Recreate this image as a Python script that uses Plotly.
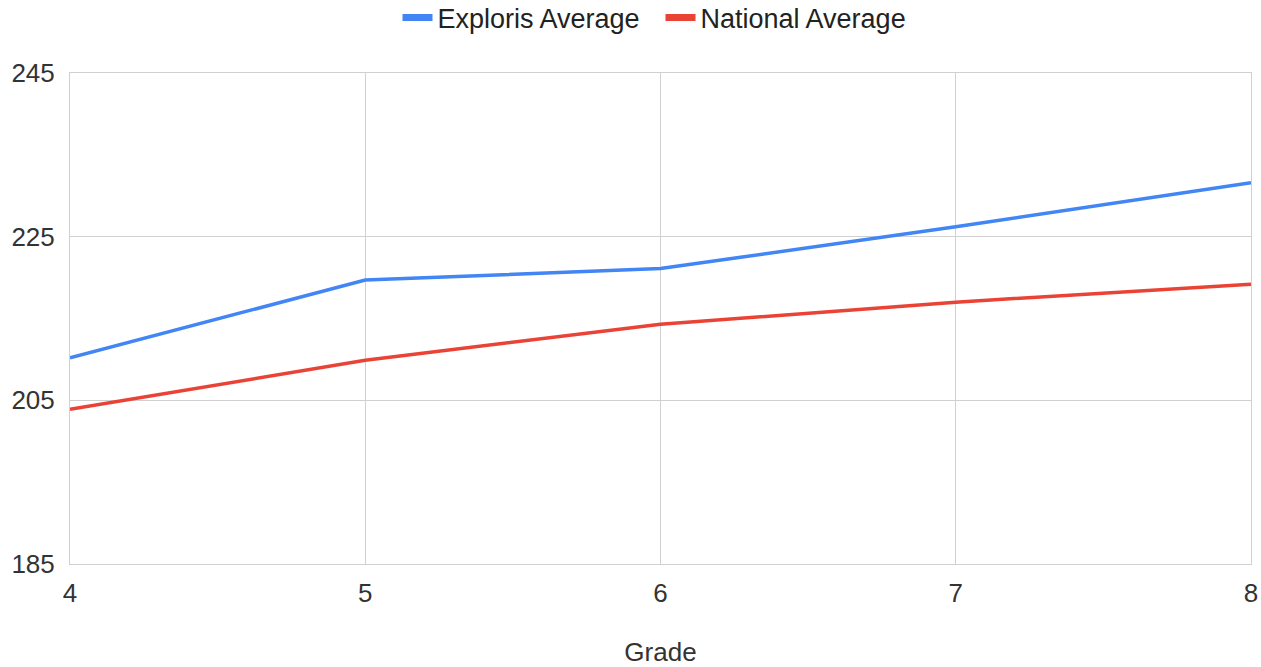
import plotly.graph_objects as go

grades = [4, 5, 6, 7, 8]
exploris_avg = [210.2, 219.7, 221.1, 226.2, 231.6]
national_avg = [203.9, 209.9, 214.3, 217.0, 219.2]
y_ticks = [185, 205, 225, 245]
series_names = ["Exploris Average", "National Average"]
series_colors = ["#4285F4", "#EA4335"]

FONT = "Liberation Sans, Arial, sans-serif"
TXT = "#333333"

fig = go.Figure()
for name, vals, col in zip(series_names, [exploris_avg, national_avg], series_colors):
    fig.add_trace(go.Scatter(x=grades, y=vals, mode="lines", name=name, legendgroup=name,
                             showlegend=False, line=dict(color=col, width=3.5)))
    # legend swatch (thick short bar like the reference)
    fig.add_trace(go.Scatter(x=[None], y=[None], mode="lines", name=name, legendgroup=name,
                             showlegend=True, line=dict(color=col, width=7)))

fig.update_layout(
    width=1261, height=667,
    margin=dict(l=70, r=10, t=73, b=103, autoexpand=False),
    paper_bgcolor="white", plot_bgcolor="white",
    font=dict(family=FONT, size=26, color=TXT),
    showlegend=True,
    legend=dict(orientation="h", x=0.5, xanchor="center", y=1.112, yref="paper",
                yanchor="middle", font=dict(size=27, color="#222222"), itemwidth=30,
                entrywidth=218, entrywidthmode="pixels",
                bgcolor="rgba(0,0,0,0)", borderwidth=0),
    xaxis=dict(range=[4, 8], tickvals=grades, showgrid=True, gridcolor="#d0d0d0",
               gridwidth=1, showline=True, linecolor="#d0d0d0", mirror=True,
               zeroline=False, ticks="", ticklabelstandoff=6, automargin=False,
               tickfont=dict(size=26, color=TXT),
               title=dict(text="Grade", standoff=40, font=dict(size=26, color=TXT))),
    yaxis=dict(range=[185, 245], tickvals=y_ticks, showgrid=True, gridcolor="#d0d0d0",
               gridwidth=1, showline=True, linecolor="#d0d0d0", mirror=True,
               zeroline=False, ticks="", ticklabelstandoff=9, automargin=False,
               tickfont=dict(size=26, color=TXT)),
)

fig.write_html("out.html", config={"displayModeBar": False},
               post_script="document.body.style.margin='0';document.body.style.overflow='hidden';")
